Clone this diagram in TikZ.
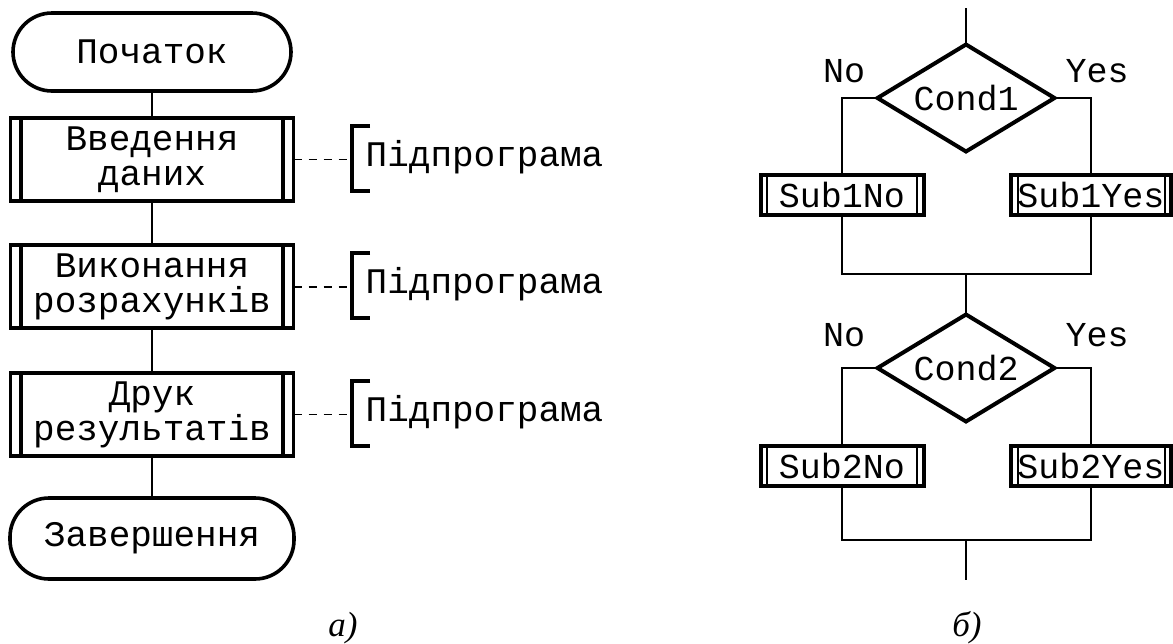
\documentclass[tikz,border=0pt]{standalone}
\usepackage{fontspec}
\setmainfont{Liberation Serif}
\newfontfamily\monof{Liberation Mono}
\usetikzlibrary{shapes.geometric,calc}
\newcommand\myLfont{\monof\fontsize{36}{35}\selectfont}
\newcommand\myRfont{\monof\fontsize{35}{35}\selectfont}
\begin{document}
\begin{tikzpicture}[x=1pt,y=-1pt,
  conn/.style={line width=1.6},
  term/.style={draw, line width=3.6, rectangle, rounded corners=39, inner sep=0, outer sep=0, font=\myLfont},
  subl/.style={draw, line width=3.6, rectangle, inner sep=0, outer sep=0, minimum width=283, minimum height=83, align=center, font=\myLfont,
    path picture={\draw[line width=4.2] ([xshift=10.5]path picture bounding box.north west) -- ([xshift=10.5]path picture bounding box.south west)
      ([xshift=-10.5]path picture bounding box.north east) -- ([xshift=-10.5]path picture bounding box.south east);}},
  subr/.style={draw, line width=4, rectangle, inner sep=0, outer sep=0, minimum height=40, font=\myRfont,
    path picture={\draw[line width=2] ([xshift=6.5]path picture bounding box.north west) -- ([xshift=6.5]path picture bounding box.south west)
      ([xshift=-6.5]path picture bounding box.north east) -- ([xshift=-6.5]path picture bounding box.south east);}},
  dia/.style={draw, diamond, aspect=1.654, line width=4, minimum width=177, minimum height=107, inner sep=0, outer sep=0, font=\myRfont},
  dashl/.style={line width=1.6, dash pattern=on 8pt off 7pt},
  brack/.style={line width=4},
  lab/.style={inner sep=0, font=\myLfont},
  rlab/.style={inner sep=0, font=\myRfont},
  captext/.style={inner sep=0, font=\fontsize{35}{35}\selectfont\itshape}
]
\useasboundingbox (0,0) rectangle (1173,643);
% left flowchart
\node[term, minimum width=278, minimum height=78] (start) at (152,52) {Початок};
\node[subl] (v1) at (152,159.5) {Введення\\даних};
\node[subl] (v2) at (152,286.7) {Виконання\\розрахунків};
\node[subl] (v3) at (152,414.5) {Друк\\результатів};
\node[term, minimum width=284, minimum height=81] (end) at (152,538.5) {Завершення};
\draw[conn] (start) -- (v1);
\draw[conn] (v1) -- (v2);
\draw[conn] (v2) -- (v3);
\draw[conn] (v3) -- (end);
% subprogram annotations
\draw[dashl] (v1.east) -- ++(58,0) coordinate (b1);
\draw[dashl] (v2.east) -- ++(58,0) coordinate (b2);
\draw[dashl] (v3.east) -- ++(58,0) coordinate (b3);
\draw[brack] ($(b1)+(18.5,-34)$) -- ($(b1)+(0,-34)$) -- ($(b1)+(0,31)$) -- ($(b1)+(18.5,31)$);
\draw[brack] ($(b2)+(18.5,-34)$) -- ($(b2)+(0,-34)$) -- ($(b2)+(0,31)$) -- ($(b2)+(18.5,31)$);
\draw[brack] ($(b3)+(18.5,-34)$) -- ($(b3)+(0,-34)$) -- ($(b3)+(0,31)$) -- ($(b3)+(18.5,31)$);
\node[lab, anchor=base west] (p1) at ($(b1)+(14,7)$) {Підпрограма};
\node[lab, anchor=base west] (p2) at ($(b2)+(14,7)$) {Підпрограма};
\node[lab, anchor=base west] (p3) at ($(b3)+(14,7)$) {Підпрограма};
% right flowchart
\coordinate (top) at (966,8);
\node[dia] (c1) at (966,98) {Cond1};
\node[subr, minimum width=163] (s1n) at (842,195) {Sub1No};
\node[subr, minimum width=160] (s1y) at (1091,195) {Sub1Yes};
\coordinate (m1) at (966,274);
\node[dia] (c2) at (966,368) {Cond2};
\node[subr, minimum width=163] (s2n) at (842,466) {Sub2No};
\node[subr, minimum width=160] (s2y) at (1091,466) {Sub2Yes};
\coordinate (m2) at (966,540);
\coordinate (bot) at (966,580);
\draw[conn] (top) -- (c1);
\draw[conn] (c1.west) -| (s1n.north);
\draw[conn] (c1.east) -| (s1y.north);
\draw[conn] (s1n.south) |- (m1) -| (s1y.south);
\draw[conn] (m1) -- (c2);
\draw[conn] (c2.west) -| (s2n.north);
\draw[conn] (c2.east) -| (s2y.north);
\draw[conn] (s2n.south) |- (m2) -| (s2y.south);
\draw[conn] (m2) -- (bot);
\node[rlab, anchor=base] (no1) at (844,82) {No};
\node[rlab, anchor=base] (yes1) at (1097,82) {Yes};
\node[rlab, anchor=base] (no2) at (844,346) {No};
\node[rlab, anchor=base] (yes2) at (1097,346) {Yes};
% captions
\node[captext, anchor=base] (ca) at (343,636) {а)};
\node[captext, anchor=base] (cb) at (967,636) {б)};
\end{tikzpicture}
\end{document}
